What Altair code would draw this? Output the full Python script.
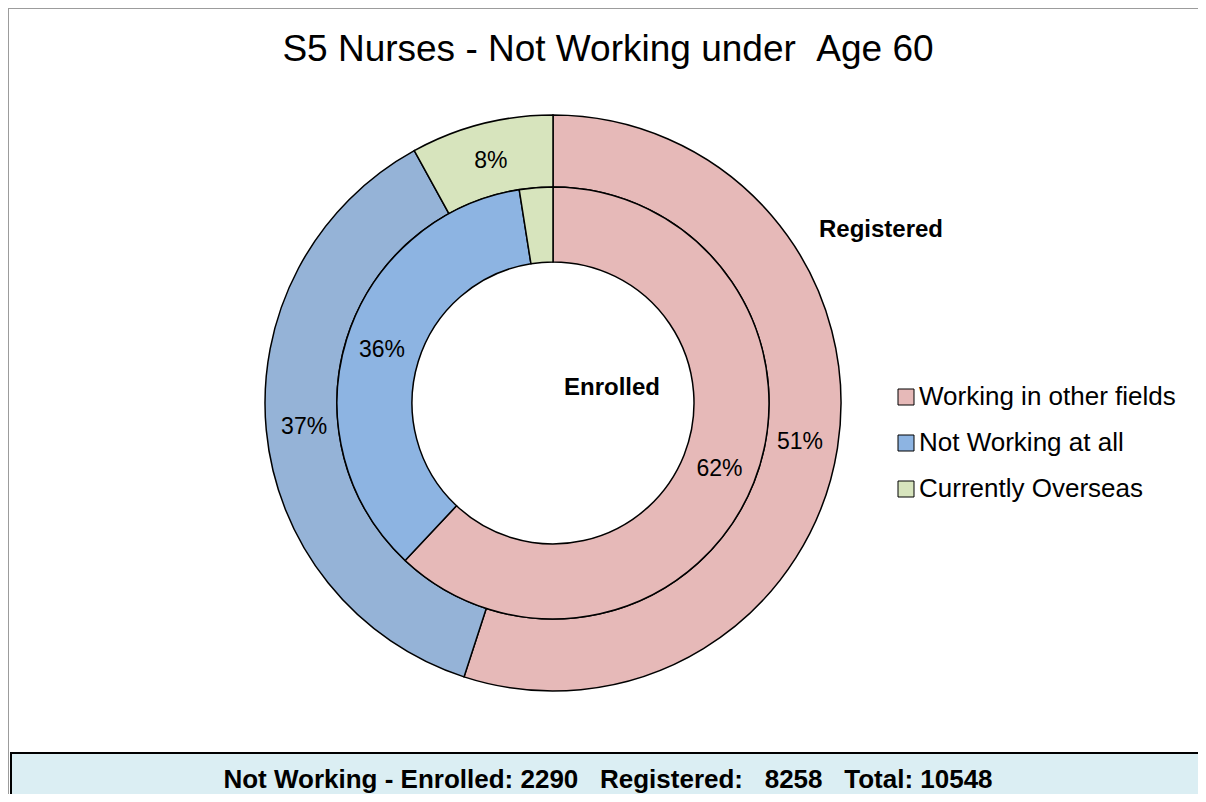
import altair as alt
import pandas as pd

categories = ["Working in other fields", "Not Working at all", "Currently Overseas"]
registered_pct = [55, 37, 8]
registered_labels = ["51%", "37%", "8%"]
enrolled_pct = [62, 35.5, 2.5]
enrolled_labels = ["62%", "36%", ""]
inner_colors = ["#E6B9B8", "#8DB4E2", "#D7E4BD"]
outer_colors = ["#E6B9B8", "#95B3D7", "#D7E4BD"]
title_text = "S5 Nurses - Not Working under\u00a0\u00a0Age 60"
footer_text = "Not Working - Enrolled: 2290\u00a0\u00a0\u00a0Registered:\u00a0\u00a0\u00a08258\u00a0\u00a0\u00a0Total: 10548"
ring_names = ["Registered", "Enrolled"]

FONT = "Liberation Sans"
CX, CY = 545, 395

outer_df = pd.DataFrame({"category": categories, "value": registered_pct,
                         "label": registered_labels, "order": [0, 1, 2]})
inner_df = pd.DataFrame({"category": categories, "value": enrolled_pct,
                         "label": enrolled_labels, "order": [0, 1, 2]})
one = pd.DataFrame({"a": [0]})

frame = alt.Chart(one).mark_rect(fill="white", stroke="#9C9C9C", strokeWidth=2).encode(
    x=alt.value(0), x2=alt.value(1300), y=alt.value(0), y2=alt.value(900))

footer_box = alt.Chart(one).mark_rect(fill="#DBEEF3", stroke="black", strokeWidth=2).encode(
    x=alt.value(3), x2=alt.value(1300), y=alt.value(745), y2=alt.value(900))

footer = alt.Chart(one).mark_text(text=footer_text, font=FONT, fontSize=26, fontWeight="bold",
                                  align="center", baseline="middle", color="black").encode(
    x=alt.value(600), y=alt.value(772))

title = alt.Chart(one).mark_text(text=title_text, font=FONT, fontSize=37, align="center",
                                 baseline="middle", color="black").encode(
    x=alt.value(600), y=alt.value(42))

outer = alt.Chart(outer_df).mark_arc(outerRadius=288, innerRadius=216, stroke="black",
                                     strokeWidth=1.5).encode(
    theta=alt.Theta("value:Q", stack=True),
    color=alt.Color("category:N", scale=alt.Scale(domain=categories, range=outer_colors), legend=None),
    order=alt.Order("order:Q"),
    x=alt.value(CX), y=alt.value(CY))

inner = alt.Chart(inner_df).mark_arc(outerRadius=216, innerRadius=141, stroke="black",
                                     strokeWidth=1.5).encode(
    theta=alt.Theta("value:Q", stack=True),
    color=alt.Color("category:N", scale=alt.Scale(domain=categories, range=inner_colors),
                    legend=alt.Legend(title=None, orient="none", legendX=885, legendY=376,
                                      symbolType="square", symbolSize=256,
                                      symbolStrokeColor="black", symbolStrokeWidth=1,
                                      symbolOpacity=1,
                                      labelFont=FONT, labelFontSize=26, labelColor="black",
                                      labelOffset=0, rowPadding=20, labelLimit=400)),
    order=alt.Order("order:Q"),
    x=alt.value(CX), y=alt.value(CY))

outer_text = alt.Chart(outer_df).mark_text(radius=250, font=FONT, fontSize=23, color="black").encode(
    theta=alt.Theta("value:Q", stack=True), text="label:N", order=alt.Order("order:Q"),
    x=alt.value(CX), y=alt.value(CY))

inner_text = alt.Chart(inner_df).mark_text(radius=179, font=FONT, fontSize=23, color="black").encode(
    theta=alt.Theta("value:Q", stack=True), text="label:N", order=alt.Order("order:Q"),
    x=alt.value(CX), y=alt.value(CY))

reg_label = alt.Chart(one).mark_text(text=ring_names[0], font=FONT, fontSize=24, fontWeight="bold",
                                     color="black").encode(x=alt.value(873), y=alt.value(222))
enr_label = alt.Chart(one).mark_text(text=ring_names[1], font=FONT, fontSize=24, fontWeight="bold",
                                     color="black").encode(x=alt.value(604), y=alt.value(380))

chart = alt.layer(frame, footer_box, footer, title, outer, inner, outer_text, inner_text,
                  reg_label, enr_label).resolve_scale(color="independent").properties(
    width=1190, height=786, padding=0,
    autosize=alt.AutoSizeParams(type="none"),
    background="white",
).configure_view(strokeWidth=0)

chart.save("out.html", embed_options={"renderer": "svg", "actions": False})
